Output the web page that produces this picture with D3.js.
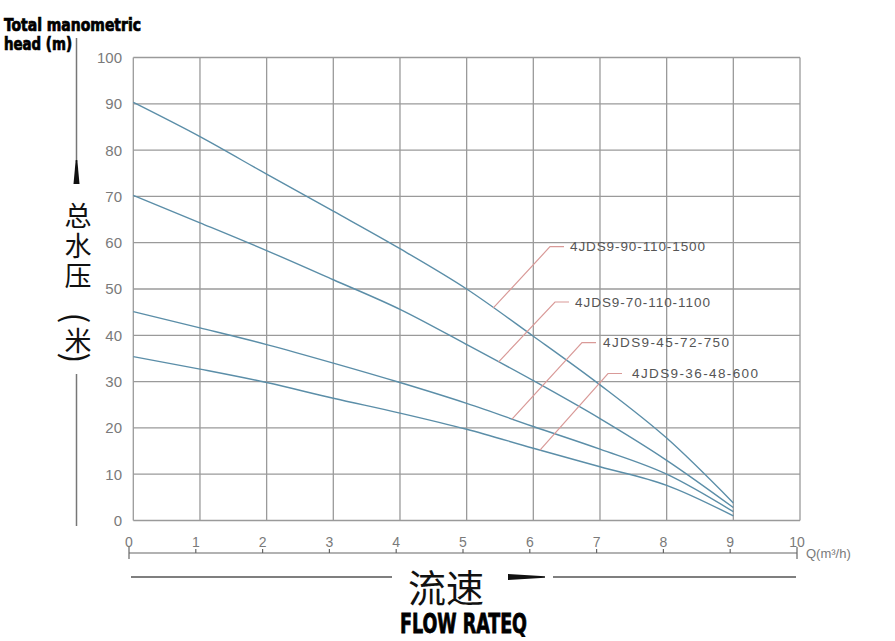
<!DOCTYPE html>
<html>
<head>
<meta charset="utf-8">
<script src="https://cdn.jsdelivr.net/npm/d3@7"></script>
<style>
  html, body { margin: 0; padding: 0; background: #fff; }
  svg { display: block; }
</style>
</head>
<body>
<svg id="chart" width="895" height="641"></svg>
<script>
// ---- data ----
const flow = [0, 1, 2, 3, 4, 5, 6, 7, 8, 9];
const head1500 = [90.3, 82.9, 74.8, 66.8, 58.7, 50.0, 39.8, 29.3, 17.8, 3.8];
const head1100 = [70.2, 64.3, 58.3, 52.0, 45.6, 38.0, 30.2, 22.0, 13.0, 2.8];
const head750  = [45.1, 41.6, 38.0, 34.0, 29.8, 25.3, 20.3, 15.4, 10.0, 1.9];
const head600  = [35.4, 32.7, 29.8, 26.4, 23.2, 19.7, 15.6, 11.6, 7.6, 1.0];
const seriesNames = ["4JDS9-90-110-1500", "4JDS9-70-110-1100", "4JDS9-45-72-750", "4JDS9-36-48-600"];
// leader anchor flow value on each curve
const leaderAt = [5.4, 5.48, 5.68, 6.1];
const xTicks = [0, 1, 2, 3, 4, 5, 6, 7, 8, 9, 10];
const yTicks = [0, 10, 20, 30, 40, 50, 60, 70, 80, 90, 100];

const series = [head1500, head1100, head750, head600].map((h, i) => ({
  name: seriesNames[i],
  pts: flow.map((q, j) => ({ q, h: h[j] })),
  anchor: leaderAt[i]
}));

const svg = d3.select("#chart");
const x = d3.scaleLinear().domain([0, 10]).range([133.3, 800]);
const y = d3.scaleLinear().domain([0, 100]).range([520.5, 57.5]);
const xb = d3.scaleLinear().domain([0, 10]).range([129, 797]);

const gridColor = "#9a9a9a";
const tickColor = "#7a7a7a";
const curveColor = "#5b8ea8";
const leaderColor = "#d99a98";

// grid
const g = svg.append("g");
g.selectAll("line.v").data(xTicks).join("line")
  .attr("x1", d => x(d)).attr("x2", d => x(d))
  .attr("y1", y(0)).attr("y2", y(100))
  .attr("stroke", gridColor).attr("stroke-width", 1.3);
g.selectAll("line.h").data(yTicks).join("line")
  .attr("x1", x(0)).attr("x2", x(10))
  .attr("y1", d => y(d)).attr("y2", d => y(d))
  .attr("stroke", gridColor).attr("stroke-width", 1.3);

// y tick labels
svg.append("g").selectAll("text").data(yTicks).join("text")
  .attr("x", 122).attr("y", d => y(d)).attr("dy", "0.36em")
  .attr("text-anchor", "end")
  .attr("font-family", "Liberation Sans, Arial, sans-serif")
  .attr("font-size", 15).attr("fill", tickColor)
  .text(d => d);

// x tick labels
svg.append("g").selectAll("text").data(xTicks).join("text")
  .attr("x", d => xb(d)).attr("y", 547)
  .attr("text-anchor", "middle")
  .attr("font-family", "Liberation Sans Narrow, Liberation Sans, Arial, sans-serif")
  .attr("font-size", 14).attr("fill", tickColor)
  .text(d => d);

// secondary flow axis line
const axisY = 553;
svg.append("line").attr("x1", xb(0)).attr("x2", xb(10)).attr("y1", axisY).attr("y2", axisY)
  .attr("stroke", "#666").attr("stroke-width", 1.2);
svg.append("g").selectAll("line").data(xTicks).join("line")
  .attr("x1", d => xb(d)).attr("x2", d => xb(d))
  .attr("y1", d => (d === 0 || d === 10) ? axisY - 6 : axisY - 4)
  .attr("y2", d => (d === 0 || d === 10) ? axisY + 6 : axisY)
  .attr("stroke", "#666").attr("stroke-width", 1.2);
svg.append("text").attr("x", 806).attr("y", 558)
  .attr("font-family", "Liberation Sans, Arial, sans-serif")
  .attr("font-size", 13).attr("fill", tickColor)
  .text("Q(m³/h)");

// curves
const line = d3.line().x(d => x(d.q)).y(d => y(d.h)).curve(d3.curveMonotoneX);
svg.append("g").selectAll("path").data(series).join("path")
  .attr("d", d => line(d.pts))
  .attr("fill", "none").attr("stroke", curveColor).attr("stroke-width", 1.4);

// leader lines and labels
const interp = (pts, q) => {
  const i = Math.min(Math.floor(q), pts.length - 2);
  const t = q - i;
  return pts[i].h + (pts[i + 1].h - pts[i].h) * t;
};
const labelPos = [
  { ex: 550, ey: 246.7, tx: 570, w: 135 },
  { ex: 555, ey: 302, tx: 575, w: 135 },
  { ex: 582, ey: 342.7, tx: 603, w: 126 },
  { ex: 608, ey: 373.5, tx: 632, w: 126 }
];
series.forEach((s, i) => {
  const ax = x(s.anchor), ay = y(interp(s.pts, s.anchor));
  const p = labelPos[i];
  svg.append("polyline")
    .attr("points", `${ax},${ay} ${p.ex},${p.ey} ${p.ex + 14},${p.ey}`)
    .attr("fill", "none").attr("stroke", leaderColor).attr("stroke-width", 1.2);
  svg.append("text").attr("x", p.tx).attr("y", p.ey).attr("dy", "0.35em")
    .attr("font-family", "Liberation Sans, Arial, sans-serif")
    .attr("font-size", 13.5).attr("fill", "#555")
    .attr("textLength", p.w).attr("lengthAdjust", "spacing")
    .text(s.name);
});

// title top-left
const titleFont = "Liberation Sans Narrow, DejaVu Sans Condensed, Arial Narrow, sans-serif";
svg.append("text").attr("x", 4).attr("y", 31)
  .attr("font-family", titleFont).attr("font-weight", "bold")
  .attr("font-size", 17).attr("fill", "#000")
  .attr("stroke", "#000").attr("stroke-width", 0.7)
  .attr("textLength", 137).attr("lengthAdjust", "spacingAndGlyphs")
  .text("Total manometric");
svg.append("text").attr("x", 4).attr("y", 50)
  .attr("font-family", titleFont).attr("font-weight", "bold")
  .attr("font-size", 17).attr("fill", "#000")
  .attr("stroke", "#000").attr("stroke-width", 0.7)
  .attr("textLength", 68).attr("lengthAdjust", "spacingAndGlyphs")
  .text("head (m)");

// vertical pressure indicator
const vx = 76.5;
svg.append("line").attr("x1", vx).attr("x2", vx).attr("y1", 38).attr("y2", 162)
  .attr("stroke", "#777").attr("stroke-width", 1.5);
svg.append("polygon")
  .attr("points", `${vx - 0.8},160 ${vx + 0.8},160 ${vx + 3},184 ${vx - 3},184`)
  .attr("fill", "#111");
svg.append("line").attr("x1", vx).attr("x2", vx).attr("y1", 374).attr("y2", 526)
  .attr("stroke", "#777").attr("stroke-width", 1.5);
const vChars = [
  { c: "总", y: 214, r: 0 }, { c: "水", y: 244, r: 0 }, { c: "压", y: 274, r: 0 },
  { c: "(", y: 318, r: 90 }, { c: "米", y: 339, r: 0 }, { c: ")", y: 358, r: 90 }
];
svg.append("g").selectAll("text").data(vChars).join("text")
  .attr("transform", d => `translate(78,${d.y}) rotate(${d.r})`)
  .attr("dominant-baseline", "central")
  .attr("text-anchor", "middle")
  .attr("font-family", "Noto Sans CJK SC, sans-serif")
  .attr("font-size", d => d.r ? 32 : 27).attr("fill", "#111")
  .text(d => d.c);

// horizontal flow indicator
const hy = 577;
svg.append("line").attr("x1", 131).attr("x2", 392).attr("y1", hy).attr("y2", hy)
  .attr("stroke", "#555").attr("stroke-width", 1.5);
svg.append("line").attr("x1", 553).attr("x2", 796).attr("y1", hy).attr("y2", hy)
  .attr("stroke", "#555").attr("stroke-width", 1.5);
svg.append("polygon")
  .attr("points", `508,${hy - 3} 545,${hy - 0.8} 545,${hy + 0.8} 508,${hy + 3}`)
  .attr("fill", "#111");
svg.append("text").attr("x", 446).attr("y", 588).attr("dy", "0.36em")
  .attr("text-anchor", "middle")
  .attr("font-family", "Noto Sans CJK SC, sans-serif")
  .attr("font-size", 38).attr("fill", "#111")
  .text("流速");
svg.append("text").attr("x", 400).attr("y", 633)
  .attr("font-family", titleFont).attr("font-weight", "bold")
  .attr("font-size", 27).attr("fill", "#000")
  .attr("stroke", "#000").attr("stroke-width", 0.8)
  .attr("textLength", 127).attr("lengthAdjust", "spacingAndGlyphs")
  .text("FLOW RATEQ");
</script>
</body>
</html>
